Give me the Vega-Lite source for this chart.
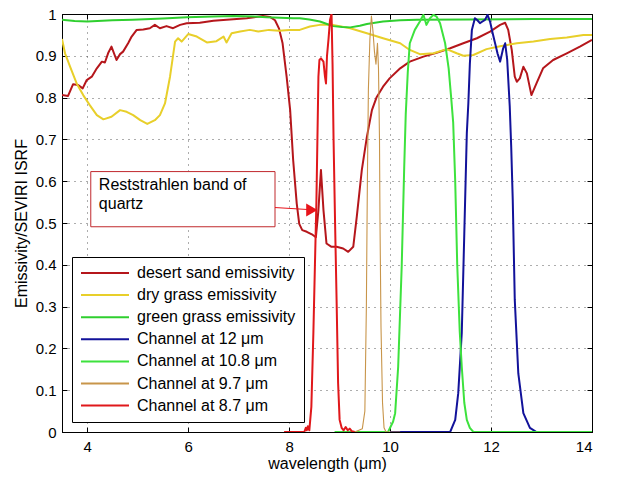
{
  "$schema": "https://vega.github.io/schema/vega-lite/v6.json",
  "width": 530,
  "height": 418,
  "autosize": {"type": "none"},
  "padding": {"left": 62, "top": 14, "right": 27, "bottom": 46},
  "background": "white",
  "config": {
    "font": "Liberation Sans",
    "view": {"stroke": "black", "strokeWidth": 1},
    "legend": {
      "orient": "none",
      "legendX": 10,
      "legendY": 243,
      "title": null,
      "symbolType": "stroke",
      "symbolSize": 2304,
      "symbolStrokeWidth": 2,
      "clipHeight": 16,
      "labelFontSize": 16,
      "labelFont": "Liberation Sans",
      "labelColor": "black",
      "labelOffset": 7,
      "padding": 8,
      "rowPadding": 6.1,
      "strokeColor": "black",
      "fillColor": "white",
      "cornerRadius": 0
    }
  },
  "datasets": {
    "curves": [
      {"series": "desert sand emissivity", "x": 3.5, "y": 0.806},
      {"series": "desert sand emissivity", "x": 3.62, "y": 0.804},
      {"series": "desert sand emissivity", "x": 3.72, "y": 0.832},
      {"series": "desert sand emissivity", "x": 3.82, "y": 0.83},
      {"series": "desert sand emissivity", "x": 3.91, "y": 0.822},
      {"series": "desert sand emissivity", "x": 3.99, "y": 0.842},
      {"series": "desert sand emissivity", "x": 4.09, "y": 0.85},
      {"series": "desert sand emissivity", "x": 4.19, "y": 0.87},
      {"series": "desert sand emissivity", "x": 4.29, "y": 0.886},
      {"series": "desert sand emissivity", "x": 4.35, "y": 0.884},
      {"series": "desert sand emissivity", "x": 4.42, "y": 0.908},
      {"series": "desert sand emissivity", "x": 4.48, "y": 0.922},
      {"series": "desert sand emissivity", "x": 4.58, "y": 0.89},
      {"series": "desert sand emissivity", "x": 4.65, "y": 0.904},
      {"series": "desert sand emissivity", "x": 4.71, "y": 0.91},
      {"series": "desert sand emissivity", "x": 4.81, "y": 0.93},
      {"series": "desert sand emissivity", "x": 4.88, "y": 0.946},
      {"series": "desert sand emissivity", "x": 4.98, "y": 0.962},
      {"series": "desert sand emissivity", "x": 5.11, "y": 0.963},
      {"series": "desert sand emissivity", "x": 5.24, "y": 0.966},
      {"series": "desert sand emissivity", "x": 5.34, "y": 0.974},
      {"series": "desert sand emissivity", "x": 5.44, "y": 0.966},
      {"series": "desert sand emissivity", "x": 5.57, "y": 0.971},
      {"series": "desert sand emissivity", "x": 5.7, "y": 0.966},
      {"series": "desert sand emissivity", "x": 5.84, "y": 0.974},
      {"series": "desert sand emissivity", "x": 5.97, "y": 0.978},
      {"series": "desert sand emissivity", "x": 6.23, "y": 0.979},
      {"series": "desert sand emissivity", "x": 6.5, "y": 0.984},
      {"series": "desert sand emissivity", "x": 6.76, "y": 0.986},
      {"series": "desert sand emissivity", "x": 7.16, "y": 0.99},
      {"series": "desert sand emissivity", "x": 7.48, "y": 0.995},
      {"series": "desert sand emissivity", "x": 7.62, "y": 0.993},
      {"series": "desert sand emissivity", "x": 7.72, "y": 0.985},
      {"series": "desert sand emissivity", "x": 7.8, "y": 0.965},
      {"series": "desert sand emissivity", "x": 7.87, "y": 0.93},
      {"series": "desert sand emissivity", "x": 7.95, "y": 0.85},
      {"series": "desert sand emissivity", "x": 8.02, "y": 0.77},
      {"series": "desert sand emissivity", "x": 8.08, "y": 0.65},
      {"series": "desert sand emissivity", "x": 8.15, "y": 0.547},
      {"series": "desert sand emissivity", "x": 8.2, "y": 0.498},
      {"series": "desert sand emissivity", "x": 8.26, "y": 0.483},
      {"series": "desert sand emissivity", "x": 8.35, "y": 0.479},
      {"series": "desert sand emissivity", "x": 8.45, "y": 0.473},
      {"series": "desert sand emissivity", "x": 8.53, "y": 0.466},
      {"series": "desert sand emissivity", "x": 8.58, "y": 0.531},
      {"series": "desert sand emissivity", "x": 8.63, "y": 0.627},
      {"series": "desert sand emissivity", "x": 8.68, "y": 0.531},
      {"series": "desert sand emissivity", "x": 8.74, "y": 0.451},
      {"series": "desert sand emissivity", "x": 8.84, "y": 0.443},
      {"series": "desert sand emissivity", "x": 8.94, "y": 0.443},
      {"series": "desert sand emissivity", "x": 9.07, "y": 0.439},
      {"series": "desert sand emissivity", "x": 9.17, "y": 0.431},
      {"series": "desert sand emissivity", "x": 9.27, "y": 0.443},
      {"series": "desert sand emissivity", "x": 9.34, "y": 0.515},
      {"series": "desert sand emissivity", "x": 9.44, "y": 0.627},
      {"series": "desert sand emissivity", "x": 9.54, "y": 0.706},
      {"series": "desert sand emissivity", "x": 9.64, "y": 0.77},
      {"series": "desert sand emissivity", "x": 9.73, "y": 0.8},
      {"series": "desert sand emissivity", "x": 9.86, "y": 0.826},
      {"series": "desert sand emissivity", "x": 9.99, "y": 0.846},
      {"series": "desert sand emissivity", "x": 10.2, "y": 0.87},
      {"series": "desert sand emissivity", "x": 10.39, "y": 0.886},
      {"series": "desert sand emissivity", "x": 10.66, "y": 0.898},
      {"series": "desert sand emissivity", "x": 10.92, "y": 0.907},
      {"series": "desert sand emissivity", "x": 11.19, "y": 0.918},
      {"series": "desert sand emissivity", "x": 11.45, "y": 0.93},
      {"series": "desert sand emissivity", "x": 11.72, "y": 0.942},
      {"series": "desert sand emissivity", "x": 11.98, "y": 0.958},
      {"series": "desert sand emissivity", "x": 12.18, "y": 0.974},
      {"series": "desert sand emissivity", "x": 12.28, "y": 0.979},
      {"series": "desert sand emissivity", "x": 12.34, "y": 0.962},
      {"series": "desert sand emissivity", "x": 12.41, "y": 0.914},
      {"series": "desert sand emissivity", "x": 12.47, "y": 0.85},
      {"series": "desert sand emissivity", "x": 12.51, "y": 0.838},
      {"series": "desert sand emissivity", "x": 12.57, "y": 0.846},
      {"series": "desert sand emissivity", "x": 12.64, "y": 0.874},
      {"series": "desert sand emissivity", "x": 12.71, "y": 0.858},
      {"series": "desert sand emissivity", "x": 12.8, "y": 0.806},
      {"series": "desert sand emissivity", "x": 12.9, "y": 0.834},
      {"series": "desert sand emissivity", "x": 13.03, "y": 0.87},
      {"series": "desert sand emissivity", "x": 13.23, "y": 0.89},
      {"series": "desert sand emissivity", "x": 13.5, "y": 0.906},
      {"series": "desert sand emissivity", "x": 13.76, "y": 0.922},
      {"series": "desert sand emissivity", "x": 14.0, "y": 0.938},

      {"series": "dry grass emissivity", "x": 3.5, "y": 0.94},
      {"series": "dry grass emissivity", "x": 3.56, "y": 0.906},
      {"series": "dry grass emissivity", "x": 3.66, "y": 0.874},
      {"series": "dry grass emissivity", "x": 3.79, "y": 0.834},
      {"series": "dry grass emissivity", "x": 3.92, "y": 0.806},
      {"series": "dry grass emissivity", "x": 4.05, "y": 0.782},
      {"series": "dry grass emissivity", "x": 4.19, "y": 0.758},
      {"series": "dry grass emissivity", "x": 4.32, "y": 0.748},
      {"series": "dry grass emissivity", "x": 4.48, "y": 0.754},
      {"series": "dry grass emissivity", "x": 4.65, "y": 0.77},
      {"series": "dry grass emissivity", "x": 4.78, "y": 0.766},
      {"series": "dry grass emissivity", "x": 4.91, "y": 0.758},
      {"series": "dry grass emissivity", "x": 5.05, "y": 0.746},
      {"series": "dry grass emissivity", "x": 5.19, "y": 0.737},
      {"series": "dry grass emissivity", "x": 5.34, "y": 0.746},
      {"series": "dry grass emissivity", "x": 5.44, "y": 0.758},
      {"series": "dry grass emissivity", "x": 5.54, "y": 0.786},
      {"series": "dry grass emissivity", "x": 5.64, "y": 0.85},
      {"series": "dry grass emissivity", "x": 5.74, "y": 0.934},
      {"series": "dry grass emissivity", "x": 5.8, "y": 0.942},
      {"series": "dry grass emissivity", "x": 5.87, "y": 0.934},
      {"series": "dry grass emissivity", "x": 6.0, "y": 0.952},
      {"series": "dry grass emissivity", "x": 6.17, "y": 0.946},
      {"series": "dry grass emissivity", "x": 6.37, "y": 0.932},
      {"series": "dry grass emissivity", "x": 6.56, "y": 0.935},
      {"series": "dry grass emissivity", "x": 6.7, "y": 0.946},
      {"series": "dry grass emissivity", "x": 6.76, "y": 0.932},
      {"series": "dry grass emissivity", "x": 6.86, "y": 0.954},
      {"series": "dry grass emissivity", "x": 7.03, "y": 0.958},
      {"series": "dry grass emissivity", "x": 7.22, "y": 0.962},
      {"series": "dry grass emissivity", "x": 7.39, "y": 0.958},
      {"series": "dry grass emissivity", "x": 7.6, "y": 0.962},
      {"series": "dry grass emissivity", "x": 7.8, "y": 0.96},
      {"series": "dry grass emissivity", "x": 8.0, "y": 0.962},
      {"series": "dry grass emissivity", "x": 8.21, "y": 0.962},
      {"series": "dry grass emissivity", "x": 8.41, "y": 0.97},
      {"series": "dry grass emissivity", "x": 8.61, "y": 0.974},
      {"series": "dry grass emissivity", "x": 8.87, "y": 0.974},
      {"series": "dry grass emissivity", "x": 9.21, "y": 0.966},
      {"series": "dry grass emissivity", "x": 9.54, "y": 0.954},
      {"series": "dry grass emissivity", "x": 9.86, "y": 0.942},
      {"series": "dry grass emissivity", "x": 10.2, "y": 0.93},
      {"series": "dry grass emissivity", "x": 10.39, "y": 0.914},
      {"series": "dry grass emissivity", "x": 10.59, "y": 0.904},
      {"series": "dry grass emissivity", "x": 10.86, "y": 0.906},
      {"series": "dry grass emissivity", "x": 11.12, "y": 0.916},
      {"series": "dry grass emissivity", "x": 11.32, "y": 0.906},
      {"series": "dry grass emissivity", "x": 11.45, "y": 0.9},
      {"series": "dry grass emissivity", "x": 11.65, "y": 0.902},
      {"series": "dry grass emissivity", "x": 11.91, "y": 0.916},
      {"series": "dry grass emissivity", "x": 12.18, "y": 0.923},
      {"series": "dry grass emissivity", "x": 12.51, "y": 0.93},
      {"series": "dry grass emissivity", "x": 12.84, "y": 0.934},
      {"series": "dry grass emissivity", "x": 13.17, "y": 0.94},
      {"series": "dry grass emissivity", "x": 13.5, "y": 0.944},
      {"series": "dry grass emissivity", "x": 13.83, "y": 0.95},
      {"series": "dry grass emissivity", "x": 14.0, "y": 0.95},

      {"series": "green grass emissivity", "x": 3.5, "y": 0.986},
      {"series": "green grass emissivity", "x": 3.75, "y": 0.983},
      {"series": "green grass emissivity", "x": 4.0, "y": 0.982},
      {"series": "green grass emissivity", "x": 4.5, "y": 0.985},
      {"series": "green grass emissivity", "x": 4.9, "y": 0.986},
      {"series": "green grass emissivity", "x": 5.5, "y": 0.989},
      {"series": "green grass emissivity", "x": 5.97, "y": 0.992},
      {"series": "green grass emissivity", "x": 6.5, "y": 0.994},
      {"series": "green grass emissivity", "x": 6.9, "y": 0.995},
      {"series": "green grass emissivity", "x": 7.3, "y": 0.994},
      {"series": "green grass emissivity", "x": 7.55, "y": 0.992},
      {"series": "green grass emissivity", "x": 8.08, "y": 0.99},
      {"series": "green grass emissivity", "x": 8.21, "y": 0.99},
      {"series": "green grass emissivity", "x": 8.4, "y": 0.987},
      {"series": "green grass emissivity", "x": 8.61, "y": 0.982},
      {"series": "green grass emissivity", "x": 8.75, "y": 0.976},
      {"series": "green grass emissivity", "x": 8.87, "y": 0.971},
      {"series": "green grass emissivity", "x": 9.05, "y": 0.969},
      {"series": "green grass emissivity", "x": 9.21, "y": 0.968},
      {"series": "green grass emissivity", "x": 9.4, "y": 0.972},
      {"series": "green grass emissivity", "x": 9.54, "y": 0.976},
      {"series": "green grass emissivity", "x": 9.86, "y": 0.982},
      {"series": "green grass emissivity", "x": 10.2, "y": 0.985},
      {"series": "green grass emissivity", "x": 10.53, "y": 0.986},
      {"series": "green grass emissivity", "x": 11.52, "y": 0.987},
      {"series": "green grass emissivity", "x": 12.84, "y": 0.988},
      {"series": "green grass emissivity", "x": 14.0, "y": 0.988},

      {"series": "Channel at 12 μm", "x": 10.0, "y": 0},
      {"series": "Channel at 12 μm", "x": 11.19, "y": 0},
      {"series": "Channel at 12 μm", "x": 11.29, "y": 0.029},
      {"series": "Channel at 12 μm", "x": 11.35, "y": 0.093},
      {"series": "Channel at 12 μm", "x": 11.42, "y": 0.237},
      {"series": "Channel at 12 μm", "x": 11.47, "y": 0.475},
      {"series": "Channel at 12 μm", "x": 11.52, "y": 0.715},
      {"series": "Channel at 12 μm", "x": 11.55, "y": 0.786},
      {"series": "Channel at 12 μm", "x": 11.58, "y": 0.88},
      {"series": "Channel at 12 μm", "x": 11.62, "y": 0.962},
      {"series": "Channel at 12 μm", "x": 11.68, "y": 0.99},
      {"series": "Channel at 12 μm", "x": 11.73, "y": 0.985},
      {"series": "Channel at 12 μm", "x": 11.78, "y": 0.978},
      {"series": "Channel at 12 μm", "x": 11.83, "y": 0.982},
      {"series": "Channel at 12 μm", "x": 11.88, "y": 0.986},
      {"series": "Channel at 12 μm", "x": 11.93, "y": 0.998},
      {"series": "Channel at 12 μm", "x": 11.98, "y": 0.982},
      {"series": "Channel at 12 μm", "x": 12.03, "y": 0.955},
      {"series": "Channel at 12 μm", "x": 12.08, "y": 0.93},
      {"series": "Channel at 12 μm", "x": 12.13, "y": 0.905},
      {"series": "Channel at 12 μm", "x": 12.18, "y": 0.886},
      {"series": "Channel at 12 μm", "x": 12.24, "y": 0.918},
      {"series": "Channel at 12 μm", "x": 12.28, "y": 0.93},
      {"series": "Channel at 12 μm", "x": 12.32, "y": 0.89},
      {"series": "Channel at 12 μm", "x": 12.37, "y": 0.78},
      {"series": "Channel at 12 μm", "x": 12.4, "y": 0.68},
      {"series": "Channel at 12 μm", "x": 12.43, "y": 0.555},
      {"series": "Channel at 12 μm", "x": 12.47, "y": 0.316},
      {"series": "Channel at 12 μm", "x": 12.54, "y": 0.14},
      {"series": "Channel at 12 μm", "x": 12.64, "y": 0.045},
      {"series": "Channel at 12 μm", "x": 12.77, "y": 0.01},
      {"series": "Channel at 12 μm", "x": 12.9, "y": 0},
      {"series": "Channel at 12 μm", "x": 14.0, "y": 0},

      {"series": "Channel at 10.8 μm", "x": 8.9, "y": 0},
      {"series": "Channel at 10.8 μm", "x": 9.96, "y": 0},
      {"series": "Channel at 10.8 μm", "x": 10.06, "y": 0.025},
      {"series": "Channel at 10.8 μm", "x": 10.1, "y": 0.045},
      {"series": "Channel at 10.8 μm", "x": 10.16, "y": 0.156},
      {"series": "Channel at 10.8 μm", "x": 10.23, "y": 0.396},
      {"series": "Channel at 10.8 μm", "x": 10.28, "y": 0.635},
      {"series": "Channel at 10.8 μm", "x": 10.31, "y": 0.76},
      {"series": "Channel at 10.8 μm", "x": 10.35, "y": 0.86},
      {"series": "Channel at 10.8 μm", "x": 10.39, "y": 0.93},
      {"series": "Channel at 10.8 μm", "x": 10.49, "y": 0.962},
      {"series": "Channel at 10.8 μm", "x": 10.59, "y": 0.982},
      {"series": "Channel at 10.8 μm", "x": 10.66, "y": 0.998},
      {"series": "Channel at 10.8 μm", "x": 10.72, "y": 0.974},
      {"series": "Channel at 10.8 μm", "x": 10.79, "y": 0.99},
      {"series": "Channel at 10.8 μm", "x": 10.86, "y": 0.998},
      {"series": "Channel at 10.8 μm", "x": 10.92, "y": 0.994},
      {"series": "Channel at 10.8 μm", "x": 10.99, "y": 0.978},
      {"series": "Channel at 10.8 μm", "x": 11.09, "y": 0.93},
      {"series": "Channel at 10.8 μm", "x": 11.16, "y": 0.87},
      {"series": "Channel at 10.8 μm", "x": 11.21, "y": 0.8},
      {"series": "Channel at 10.8 μm", "x": 11.25, "y": 0.74},
      {"series": "Channel at 10.8 μm", "x": 11.29, "y": 0.6},
      {"series": "Channel at 10.8 μm", "x": 11.33, "y": 0.4},
      {"series": "Channel at 10.8 μm", "x": 11.38, "y": 0.24},
      {"series": "Channel at 10.8 μm", "x": 11.42, "y": 0.156},
      {"series": "Channel at 10.8 μm", "x": 11.47, "y": 0.07},
      {"series": "Channel at 10.8 μm", "x": 11.52, "y": 0.029},
      {"series": "Channel at 10.8 μm", "x": 11.58, "y": 0.01},
      {"series": "Channel at 10.8 μm", "x": 11.65, "y": 0},
      {"series": "Channel at 10.8 μm", "x": 14.0, "y": 0},

      {"series": "Channel at 9.7 μm", "x": 9.3, "y": 0},
      {"series": "Channel at 9.7 μm", "x": 9.45, "y": 0.008},
      {"series": "Channel at 9.7 μm", "x": 9.5, "y": 0.05},
      {"series": "Channel at 9.7 μm", "x": 9.53, "y": 0.3},
      {"series": "Channel at 9.7 μm", "x": 9.55, "y": 0.6},
      {"series": "Channel at 9.7 μm", "x": 9.57, "y": 0.82},
      {"series": "Channel at 9.7 μm", "x": 9.6, "y": 0.94},
      {"series": "Channel at 9.7 μm", "x": 9.63, "y": 0.995},
      {"series": "Channel at 9.7 μm", "x": 9.66, "y": 0.96},
      {"series": "Channel at 9.7 μm", "x": 9.69, "y": 0.91},
      {"series": "Channel at 9.7 μm", "x": 9.72, "y": 0.88},
      {"series": "Channel at 9.7 μm", "x": 9.75, "y": 0.93},
      {"series": "Channel at 9.7 μm", "x": 9.77, "y": 0.87},
      {"series": "Channel at 9.7 μm", "x": 9.79, "y": 0.7},
      {"series": "Channel at 9.7 μm", "x": 9.8, "y": 0.5},
      {"series": "Channel at 9.7 μm", "x": 9.82, "y": 0.25},
      {"series": "Channel at 9.7 μm", "x": 9.85, "y": 0.07},
      {"series": "Channel at 9.7 μm", "x": 9.88, "y": 0.01},
      {"series": "Channel at 9.7 μm", "x": 9.92, "y": 0},
      {"series": "Channel at 9.7 μm", "x": 10.2, "y": 0},

      {"series": "Channel at 8.7 μm", "x": 7.9, "y": 0},
      {"series": "Channel at 8.7 μm", "x": 8.3, "y": 0},
      {"series": "Channel at 8.7 μm", "x": 8.33, "y": 0.01},
      {"series": "Channel at 8.7 μm", "x": 8.35, "y": 0.004},
      {"series": "Channel at 8.7 μm", "x": 8.37, "y": 0.014},
      {"series": "Channel at 8.7 μm", "x": 8.4, "y": 0.004},
      {"series": "Channel at 8.7 μm", "x": 8.44, "y": 0.06},
      {"series": "Channel at 8.7 μm", "x": 8.48, "y": 0.237},
      {"series": "Channel at 8.7 μm", "x": 8.51, "y": 0.395},
      {"series": "Channel at 8.7 μm", "x": 8.54, "y": 0.55},
      {"series": "Channel at 8.7 μm", "x": 8.56, "y": 0.7},
      {"series": "Channel at 8.7 μm", "x": 8.58, "y": 0.85},
      {"series": "Channel at 8.7 μm", "x": 8.6, "y": 0.89},
      {"series": "Channel at 8.7 μm", "x": 8.63, "y": 0.894},
      {"series": "Channel at 8.7 μm", "x": 8.68, "y": 0.886},
      {"series": "Channel at 8.7 μm", "x": 8.71, "y": 0.85},
      {"series": "Channel at 8.7 μm", "x": 8.73, "y": 0.834},
      {"series": "Channel at 8.7 μm", "x": 8.75, "y": 0.9},
      {"series": "Channel at 8.7 μm", "x": 8.78, "y": 0.94},
      {"series": "Channel at 8.7 μm", "x": 8.81, "y": 0.986},
      {"series": "Channel at 8.7 μm", "x": 8.84, "y": 1.0},
      {"series": "Channel at 8.7 μm", "x": 8.86, "y": 0.88},
      {"series": "Channel at 8.7 μm", "x": 8.88, "y": 0.7},
      {"series": "Channel at 8.7 μm", "x": 8.91, "y": 0.5},
      {"series": "Channel at 8.7 μm", "x": 8.94, "y": 0.316},
      {"series": "Channel at 8.7 μm", "x": 8.97, "y": 0.117},
      {"series": "Channel at 8.7 μm", "x": 9.0, "y": 0.029},
      {"series": "Channel at 8.7 μm", "x": 9.04, "y": 0.01},
      {"series": "Channel at 8.7 μm", "x": 9.08, "y": 0.004},
      {"series": "Channel at 8.7 μm", "x": 9.12, "y": 0.012},
      {"series": "Channel at 8.7 μm", "x": 9.16, "y": 0.004},
      {"series": "Channel at 8.7 μm", "x": 9.2, "y": 0.008},
      {"series": "Channel at 8.7 μm", "x": 9.24, "y": 0.002},
      {"series": "Channel at 8.7 μm", "x": 9.3, "y": 0}
    ],
    "note": [
      {"label": "Reststrahlen band of\nquartz", "box_x1": 4.07, "box_x2": 7.72, "box_y1": 0.623, "box_y2": 0.491, "text_x": 4.23, "text_y": 0.591, "arrow_x1": 7.72, "arrow_y1": 0.537, "arrow_x2": 8.4, "arrow_y2": 0.532, "tip_x": 8.45, "tip_y": 0.531}
    ]
  },
  "layer": [
    {
      "data": {"name": "curves"},
      "transform": [{"filter": "datum.series !== 'Channel at 9.7 μm'"}],
      "mark": {"type": "line", "clip": true, "strokeJoin": "round", "strokeWidth": 2},
      "encoding": {
        "x": {
          "field": "x", "type": "quantitative",
          "scale": {"domain": [3.5, 14], "nice": false, "zero": false},
          "axis": {
            "orient": "bottom", "values": [4, 6, 8, 10, 12, 14],
            "title": "wavelength (μm)", "titleFontSize": 16, "titleFontWeight": "normal", "titleColor": "black", "titlePadding": 1,
            "labelFontSize": 15, "labelColor": "black", "labelPadding": 12,
            "tickSize": -5, "tickColor": "black", "domainColor": "black",
            "grid": true, "gridDash": [1, 5], "gridColor": "#333", "gridOpacity": 0.8
          }
        },
        "y": {
          "field": "y", "type": "quantitative",
          "scale": {"domain": [0, 1], "nice": false},
          "axis": {
            "orient": "left", "values": [0, 0.1, 0.2, 0.3, 0.4, 0.5, 0.6, 0.7, 0.8, 0.9, 1], "format": ".1~f",
            "title": "Emissivity/SEVIRI ISRF", "titleFontSize": 16, "titleFontWeight": "normal", "titleColor": "black", "titlePadding": 6,
            "labelFontSize": 15, "labelColor": "black", "labelPadding": 11,
            "tickSize": -5, "tickColor": "black", "domainColor": "black",
            "grid": true, "gridDash": [1, 5], "gridColor": "#333", "gridOpacity": 0.8
          }
        },
        "color": {
          "field": "series", "type": "nominal",
          "scale": {
            "domain": ["desert sand emissivity", "dry grass emissivity", "green grass emissivity", "Channel at 12 μm", "Channel at 10.8 μm", "Channel at 9.7 μm", "Channel at 8.7 μm"],
            "range": ["#b5161b", "#e8cf2a", "#2fcf2f", "#12129a", "#3de23d", "#c8954a", "#e0181b"]
          },
          "legend": {}
        }
      }
    },
    {
      "data": {"name": "curves"},
      "transform": [{"filter": "datum.series === 'Channel at 9.7 μm'"}],
      "mark": {"type": "line", "clip": true, "strokeJoin": "round", "strokeWidth": 1.1},
      "encoding": {
        "x": {"field": "x", "type": "quantitative", "axis": null},
        "y": {"field": "y", "type": "quantitative", "axis": null},
        "color": {"field": "series", "type": "nominal"}
      }
    },
    {
      "data": {"name": "note"},
      "mark": {"type": "rect", "fill": "white", "stroke": "#c0282d", "strokeWidth": 1},
      "encoding": {
        "x": {"field": "box_x1", "type": "quantitative", "axis": {"orient": "top", "values": [4, 6, 8, 10, 12, 14], "labels": false, "title": null, "grid": false, "tickSize": -5, "tickColor": "black", "domainColor": "black"}},
        "x2": {"field": "box_x2"},
        "y": {"field": "box_y1", "type": "quantitative", "axis": {"orient": "right", "values": [0, 0.1, 0.2, 0.3, 0.4, 0.5, 0.6, 0.7, 0.8, 0.9, 1], "labels": false, "title": null, "grid": false, "tickSize": -5, "tickColor": "black", "domainColor": "black"}},
        "y2": {"field": "box_y2"}
      }
    },
    {
      "data": {"name": "note"},
      "mark": {"type": "rule", "color": "#e8141b", "strokeWidth": 1},
      "encoding": {
        "x": {"field": "arrow_x1", "type": "quantitative", "axis": null},
        "x2": {"field": "arrow_x2"},
        "y": {"field": "arrow_y1", "type": "quantitative", "axis": null},
        "y2": {"field": "arrow_y2"}
      }
    },
    {
      "data": {"name": "note"},
      "mark": {"type": "point", "shape": "triangle-right", "filled": true, "color": "#e8141b", "opacity": 1, "size": 170},
      "encoding": {
        "x": {"field": "tip_x", "type": "quantitative", "axis": null},
        "y": {"field": "tip_y", "type": "quantitative", "axis": null}
      }
    },
    {
      "data": {"name": "note"},
      "mark": {"type": "text", "align": "left", "baseline": "middle", "fontSize": 16, "lineHeight": 19, "lineBreak": "\n", "color": "black", "font": "Liberation Sans"},
      "encoding": {
        "x": {"field": "text_x", "type": "quantitative", "axis": null},
        "y": {"field": "text_y", "type": "quantitative", "axis": null},
        "text": {"field": "label"}
      }
    }
  ],
  "resolve": {"axis": {"x": "independent", "y": "independent"}}
}
